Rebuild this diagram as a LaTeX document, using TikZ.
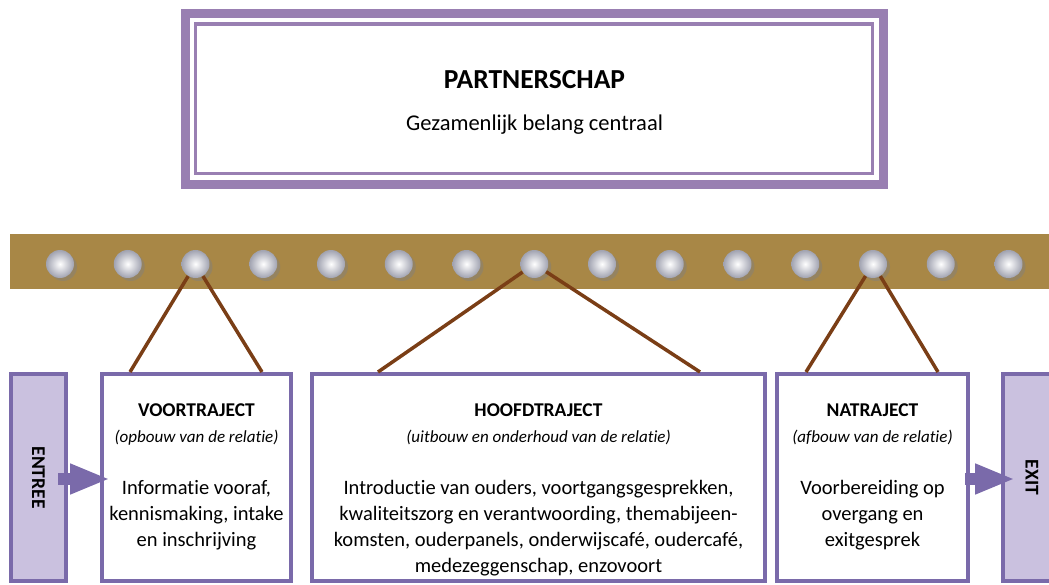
\documentclass[tikz,border=0pt]{standalone}
\usepackage{fontspec}
\setmainfont{Carlito}[Ligatures=NoCommon]
\usetikzlibrary{positioning,arrows.meta,shadows}
\definecolor{framepurple}{RGB}{153,127,178}
\definecolor{boxpurple}{RGB}{122,106,170}
\definecolor{gatefill}{RGB}{202,193,223}
\definecolor{railbrown}{RGB}{168,135,70}
\definecolor{hangbrown}{RGB}{122,62,22}
\definecolor{pearlgray}{RGB}{160,162,176}
\tikzset{phase/.style={draw=boxpurple,line width=4pt,fill=white,anchor=north west,inner sep=0pt,minimum height=207pt},
  gate/.style={phase,fill=gatefill},
  pearl/.style={circle,inner sep=0pt,minimum size=28pt,inner color=white,outer color=pearlgray,
    drop shadow={shadow xshift=3pt,shadow yshift=-3pt,opacity=0.45}},
  hanger/.style={hangbrown,line width=3.5pt},
  flow/.style={boxpurple,line width=12pt,-{Triangle[length=40pt,width=28pt]}},
  phasetext/.style={align=center,inner sep=0pt,anchor=north,font=\fontsize{20.5}{26}\selectfont},
  gatetext/.style={rotate=-90,font=\fontsize{19.5}{20}\selectfont\bfseries}}

\begin{document}
\begin{tikzpicture}[x=1pt,y=-1pt]
    \clip (0,0) rectangle (1049,585);
    % partnerschap
    \node[draw=framepurple,line width=9pt,outer sep=0pt,minimum width=698pt,minimum height=171pt] (partner) at (534.5,99) {};
    \draw[framepurple,line width=3.5pt] ([shift={(10pt,-10.5pt)}]partner.north west) rectangle ([shift={(-11pt,11pt)}]partner.south east);
    \node[anchor=base,font=\fontsize{27.5}{30}\selectfont\bfseries] (ptitle) at (534.5,89) {PARTNERSCHAP};
    \node[anchor=base,font=\fontsize{22.5}{27}\selectfont] (psub) at ([yshift=-42pt]ptitle.base) {Gezamenlijk belang centraal};
    % rail with pearls
    \node[fill=railbrown,inner sep=0pt,minimum width=1039pt,minimum height=55pt,anchor=north west] (rail) at (10,234) {};
    \foreach \i in {1,...,15}
        \node[pearl] (b\i) at ({60+67.75*(\i-1)},264) {};
    % phases
    \node[gate,minimum width=55pt] (entree) at (9,372) {};
    \node[phase,minimum width=189pt] (voor) at (100,372) {};
    \node[phase,minimum width=453pt] (hoofd) at (310,372) {};
    \node[phase,minimum width=191pt] (na) at (775,372) {};
    \node[gate,minimum width=60pt] (exit) at (1001,372) {};
    \foreach \bi/\ph/\lo/\ro in {3/voor/30/31,8/hoofd/68/67,13/na/31/32} {
        \draw[hanger] (b\bi) -- ([xshift=\lo pt]\ph.north west);
        \draw[hanger] (b\bi) -- ([xshift=-\ro pt]\ph.north east);
    }
    \draw[flow] ([xshift=-10pt,yshift=-1.5pt]entree.east) -- ([xshift=10pt,yshift=-1.5pt]voor.west);
    \draw[flow] ([xshift=-5pt,yshift=-1.5pt]na.east) -- ([xshift=14pt,yshift=-1.5pt]exit.west);
    \node[gatetext] (entreelabel) at (entree.center) {ENTREE};
    \node[gatetext] (exitlabel) at ([xshift=-1pt]exit.center) {EXIT};
    % texts
    \node[phasetext,below=32pt of voor.north] (voortext) {{\fontsize{19.5}{26}\selectfont\bfseries VOORTRAJECT}\\
        {\fontsize{17}{26}\selectfont\itshape (opbouw van de relatie)}\\[26pt]
        Informatie vooraf,\\ kennismaking, intake\\ en inschrijving};
    \node[phasetext,below=32pt of hoofd.north] (hoofdtext) {{\fontsize{19.5}{26}\selectfont\bfseries HOOFDTRAJECT}\\
        {\fontsize{17}{26}\selectfont\itshape (uitbouw en onderhoud van de relatie)}\\[26pt]
        Introductie van ouders, voortgangsgesprekken,\\ kwaliteitszorg en verantwoording, themabijeen-\\
        komsten, ouderpanels, onderwijscafé, oudercafé,\\ medezeggenschap, enzovoort};
    \node[phasetext,below=32pt of na.north] (natext) {{\fontsize{19.5}{26}\selectfont\bfseries NATRAJECT}\\
        {\fontsize{17}{26}\selectfont\itshape (afbouw van de relatie)}\\[26pt]
        Voorbereiding op\\ overgang en\\ exitgesprek};
\end{tikzpicture}
\end{document}
